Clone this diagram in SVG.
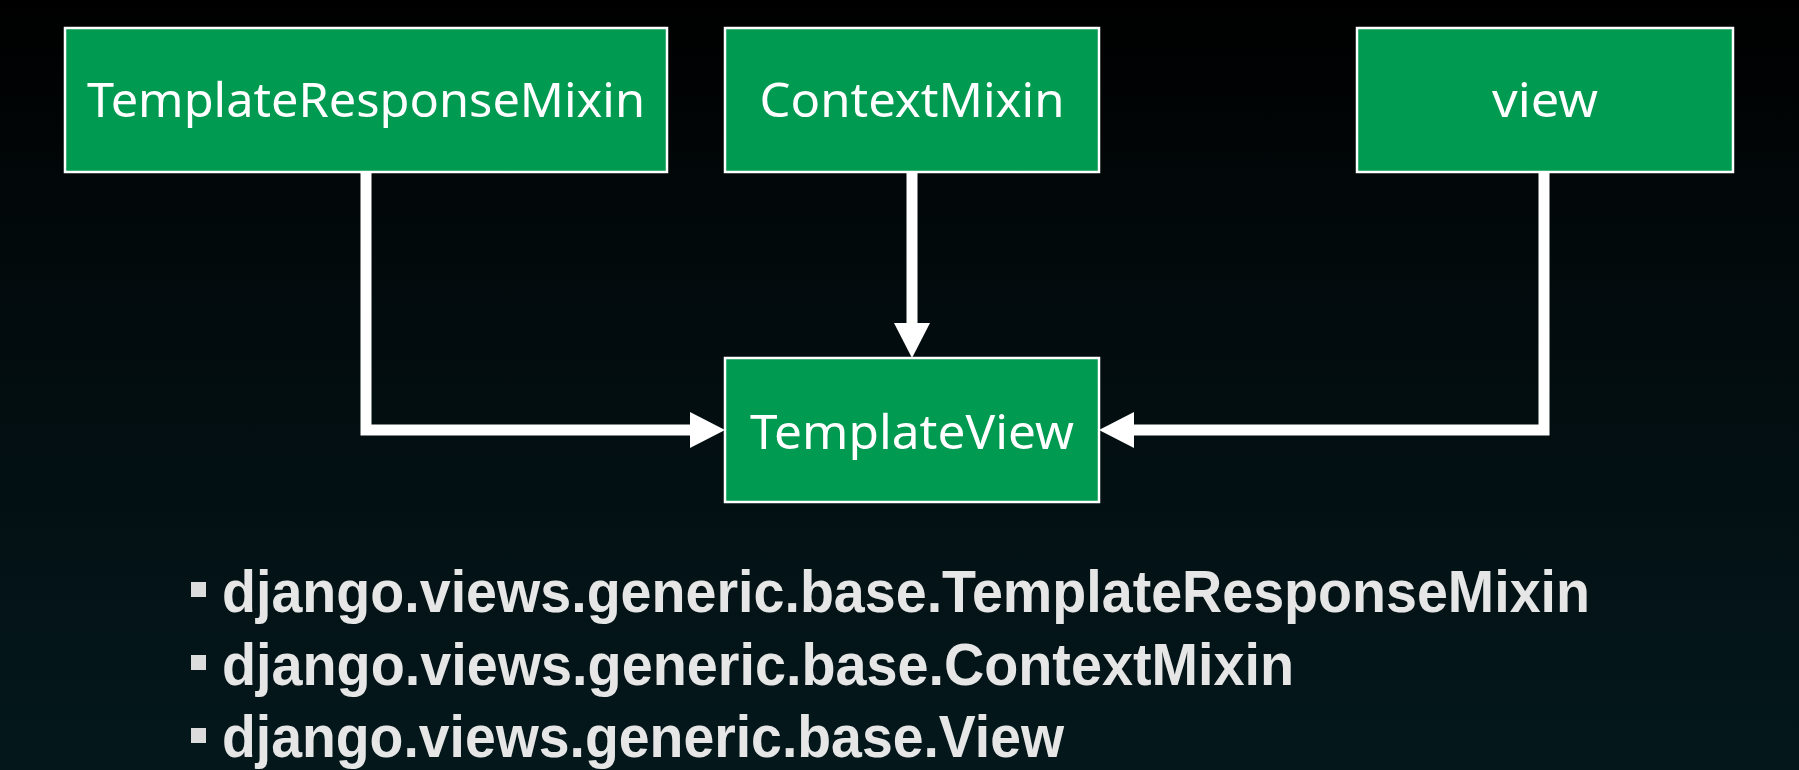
<svg xmlns="http://www.w3.org/2000/svg" width="1799" height="770" viewBox="0 0 1799 770">
  <defs>
    <linearGradient id="bg" x1="0" y1="0" x2="0" y2="1">
      <stop offset="0" stop-color="#000000"/>
      <stop offset="0.35" stop-color="#020a0c"/>
      <stop offset="1" stop-color="#04181c"/>
    </linearGradient>
    <style>
      .box { fill: #009a50; stroke: #ffffff; stroke-width: 2.5; }
      .lbl { fill: #ffffff; font-family: "Noto Sans", "Open Sans", sans-serif; font-size: 48px; text-anchor: middle; }
      .con { fill: none; stroke: #ffffff; stroke-width: 11; stroke-linejoin: miter; }
      .item { fill: #e6e6e6; font-family: "Liberation Sans", Arial, sans-serif; font-weight: bold; font-size: 60px; }
      .bul { fill: #dcdcdc; }
    </style>
  </defs>
  <rect x="0" y="0" width="1799" height="770" fill="url(#bg)"/>

  <g id="connectors">
    <path class="con" d="M366,172 L366,430 L690,430"/>
    <path class="con" d="M912,172 L912,323"/>
    <path class="con" d="M1544,172 L1544,430 L1134,430"/>
    <polygon points="690,412 725,430 690,448" fill="#ffffff"/>
    <polygon points="1134,412 1099,430 1134,448" fill="#ffffff"/>
    <polygon points="894,323 912,358 930,323" fill="#ffffff"/>
  </g>

  <g id="node-templateresponsemixin">
    <rect class="box" x="65" y="28" width="602" height="144"/>
    <text class="lbl" x="366" y="117" textLength="558" lengthAdjust="spacingAndGlyphs">TemplateResponseMixin</text>
  </g>
  <g id="node-contextmixin">
    <rect class="box" x="725" y="28" width="374" height="144"/>
    <text class="lbl" x="912" y="117" textLength="305" lengthAdjust="spacingAndGlyphs">ContextMixin</text>
  </g>
  <g id="node-view">
    <rect class="box" x="1357" y="28" width="376" height="144"/>
    <text class="lbl" x="1545" y="117" textLength="106" lengthAdjust="spacingAndGlyphs">view</text>
  </g>
  <g id="node-templateview">
    <rect class="box" x="725" y="358" width="374" height="144"/>
    <text class="lbl" x="912" y="449" textLength="324" lengthAdjust="spacingAndGlyphs">TemplateView</text>
  </g>

  <g id="list">
    <rect class="bul" x="191" y="582" width="15" height="15"/>
    <text class="item" x="222" y="612" textLength="1368" lengthAdjust="spacingAndGlyphs">django.views.generic.base.TemplateResponseMixin</text>
    <rect class="bul" x="191" y="655" width="15" height="15"/>
    <text class="item" x="222" y="685" textLength="1072" lengthAdjust="spacingAndGlyphs">django.views.generic.base.ContextMixin</text>
    <rect class="bul" x="191" y="728" width="15" height="15"/>
    <text class="item" x="222" y="757" textLength="842" lengthAdjust="spacingAndGlyphs">django.views.generic.base.View</text>
  </g>
</svg>
